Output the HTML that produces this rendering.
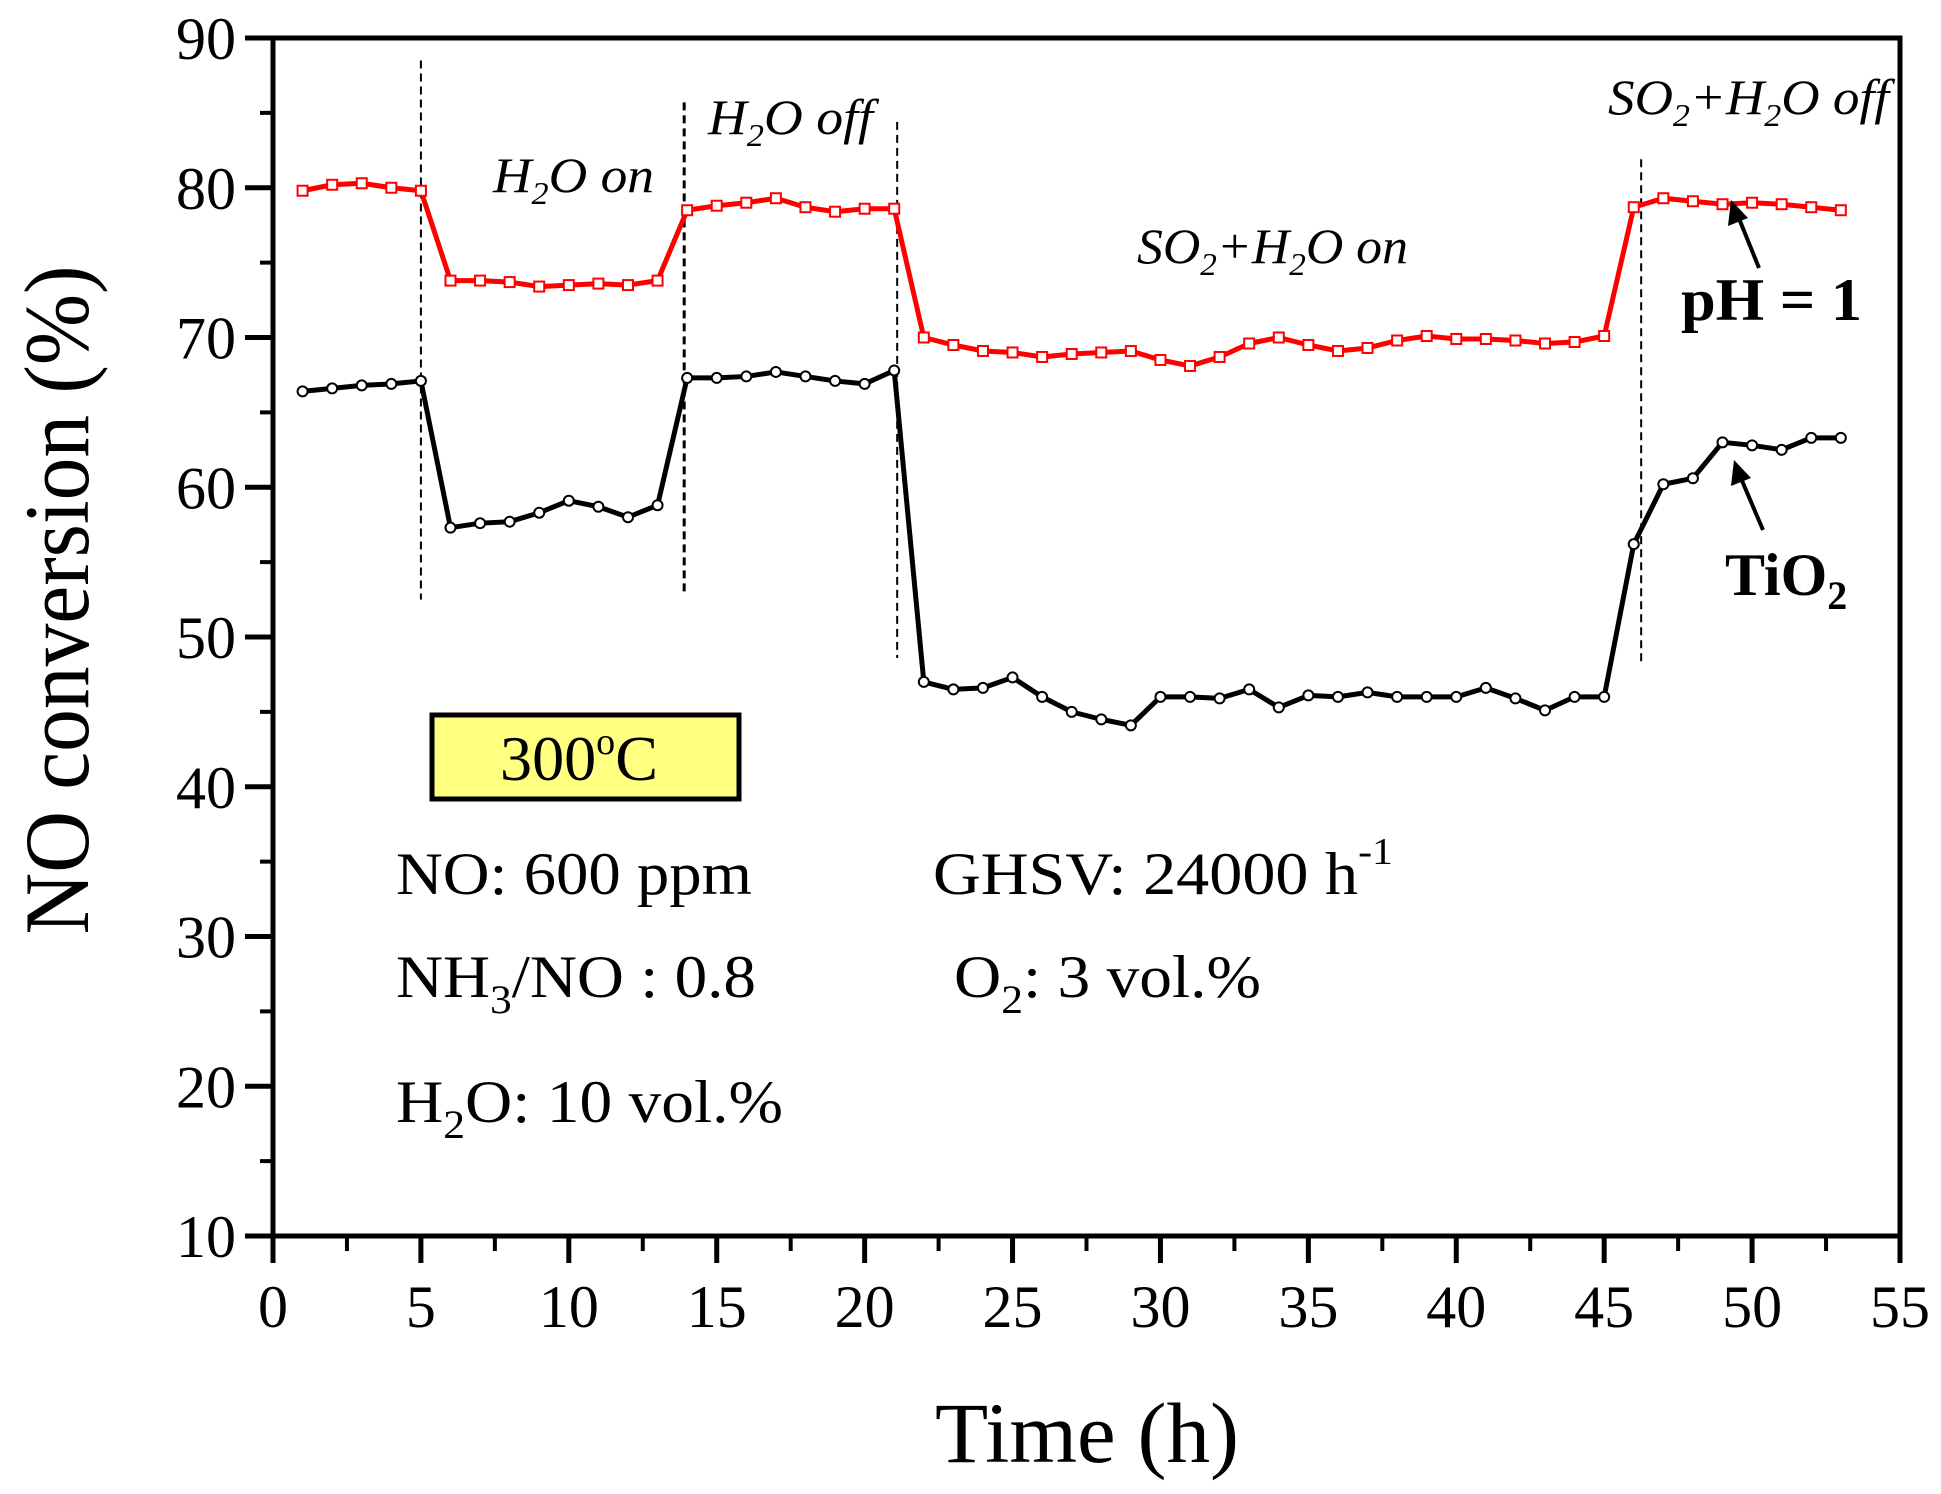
<!DOCTYPE html>
<html><head><meta charset="utf-8"><style>
html,body{margin:0;padding:0;background:#fff}
svg{display:block}
text{font-family:"Liberation Serif",serif}
</style></head><body>
<svg id="chart" width="1941" height="1494" viewBox="0 0 1941 1494" xmlns="http://www.w3.org/2000/svg">
<g id="grid-layer"></g>
<rect x="432" y="715" width="307" height="84" fill="#ffff80" stroke="#000" stroke-width="5"/>
<text x="500" y="780" font-size="64" textLength="158" lengthAdjust="spacingAndGlyphs">300<tspan font-size="38" dy="-26">o</tspan><tspan dy="26">C</tspan></text>
<text x="396" y="894" font-size="60" textLength="356" lengthAdjust="spacingAndGlyphs">NO: 600 ppm</text>
<text x="933" y="894" font-size="60" textLength="460" lengthAdjust="spacingAndGlyphs">GHSV: 24000 h<tspan font-size="38" dy="-30">-1</tspan></text>
<text x="396" y="997" font-size="60" textLength="360" lengthAdjust="spacingAndGlyphs">NH<tspan font-size="40" dy="16">3</tspan><tspan dy="-16">/NO : 0.8</tspan></text>
<text x="954" y="997" font-size="60" textLength="307" lengthAdjust="spacingAndGlyphs">O<tspan font-size="40" dy="16">2</tspan><tspan dy="-16">: 3 vol.%</tspan></text>
<text x="396" y="1122" font-size="60" textLength="387" lengthAdjust="spacingAndGlyphs">H<tspan font-size="40" dy="16">2</tspan><tspan dy="-16">O: 10 vol.%</tspan></text>
<text x="493" y="192" font-size="50" font-style="italic" textLength="161" lengthAdjust="spacingAndGlyphs">H<tspan font-size="32" dy="12">2</tspan><tspan dy="-12">O on</tspan></text>
<text x="708" y="134" font-size="50" font-style="italic" textLength="165" lengthAdjust="spacingAndGlyphs">H<tspan font-size="32" dy="12">2</tspan><tspan dy="-12">O off</tspan></text>
<text x="1137" y="263" font-size="50" font-style="italic" textLength="271" lengthAdjust="spacingAndGlyphs">SO<tspan font-size="32" dy="12">2</tspan><tspan dy="-12">+H</tspan><tspan font-size="32" dy="12">2</tspan><tspan dy="-12">O on</tspan></text>
<text x="1608" y="114" font-size="50" font-style="italic" textLength="281" lengthAdjust="spacingAndGlyphs">SO<tspan font-size="32" dy="12">2</tspan><tspan dy="-12">+H</tspan><tspan font-size="32" dy="12">2</tspan><tspan dy="-12">O off</tspan></text>
<text x="1681" y="320" font-size="60" font-weight="bold" textLength="181" lengthAdjust="spacingAndGlyphs">pH = 1</text>
<text x="1725" y="595" font-size="60" font-weight="bold">TiO<tspan font-size="40" dy="14">2</tspan></text>
<g><line x1="1759" y1="268" x2="1738" y2="216" stroke="#000" stroke-width="4"/><polygon points="1731,200 1728,226 1748,218" fill="#000"/></g>
<g><line x1="1763" y1="530" x2="1740" y2="476" stroke="#000" stroke-width="4"/><polygon points="1734,460 1731,486 1751,478" fill="#000"/></g>
<text x="1087" y="1462" font-size="86" text-anchor="middle" textLength="304" lengthAdjust="spacingAndGlyphs">Time (h)</text>
<text x="0" y="0" font-size="92" text-anchor="middle" textLength="669" lengthAdjust="spacingAndGlyphs" transform="translate(88,600) rotate(-90)">NO conversion (%)</text>
</svg>
<script>
const hours = [1,2,3,4,5,6,7,8,9,10,11,12,13,14,15,16,17,18,19,20,21,22,23,24,25,26,27,28,29,30,31,32,33,34,35,36,37,38,39,40,41,42,43,44,45,46,47,48,49,50,51,52,53];
const ph1Values = [79.8,80.2,80.3,80,79.8,73.8,73.8,73.7,73.4,73.5,73.6,73.5,73.8,78.5,78.8,79,79.3,78.7,78.4,78.6,78.6,70,69.5,69.1,69,68.7,68.9,69,69.1,68.5,68.1,68.7,69.6,70,69.5,69.1,69.3,69.8,70.1,69.9,69.9,69.8,69.6,69.7,70.1,78.7,79.3,79.1,78.9,79,78.9,78.7,78.5];
const tio2Values = [66.4,66.6,66.8,66.9,67.1,57.3,57.6,57.7,58.3,59.1,58.7,58.0,58.8,67.3,67.3,67.4,67.7,67.4,67.1,66.9,67.8,47,46.5,46.6,47.3,46,45,44.5,44.1,46,46,45.9,46.5,45.3,46.1,46,46.3,46,46,46,46.6,45.9,45.1,46,46,56.2,60.2,60.6,63,62.8,62.5,63.3,63.3];
const xTicks = [0,5,10,15,20,25,30,35,40,45,50,55];
const yTicks = [10,20,30,40,50,60,70,80,90];
const eventTimes = [5,13.9,21.1,46.25];
const eventTops = [88.5,85.7,84.4,81.9];
const eventBottoms = [52.5,52.9,48.6,48.1];

const NS='http://www.w3.org/2000/svg';
const layer=document.getElementById('grid-layer');
const X0=273,X1=1900,Y0=1236,Y1=38, xMin=0,xMax=55,yMin=10,yMax=90;
const sx=v=>X0+(v-xMin)/(xMax-xMin)*(X1-X0);
const sy=v=>Y0-(v-yMin)/(yMax-yMin)*(Y0-Y1);
function mk(tag,attrs,parent){const e=document.createElementNS(NS,tag);for(const k in attrs)e.setAttribute(k,attrs[k]);(parent||layer).appendChild(e);return e;}

const frame=mk('rect',{x:X0,y:Y1,width:X1-X0,height:Y0-Y1,fill:'none',stroke:'#000','stroke-width':5});



xTicks.forEach((t,i)=>{
  const tk=mk('line',{x1:sx(t),x2:sx(t),y1:Y0,y2:Y0+27,stroke:'#000','stroke-width':5});
  
  
  const lb=mk('text',{x:sx(t),y:1327,'font-size':60,'text-anchor':'middle'});
  lb.textContent=t;
  
  
  if(i<xTicks.length-1){
    const mt=mk('line',{x1:sx(t+2.5),x2:sx(t+2.5),y1:Y0,y2:Y0+15,stroke:'#000','stroke-width':4});
    
    
  }
});
yTicks.forEach((t,i)=>{
  const tk=mk('line',{x1:X0-28,x2:X0,y1:sy(t),y2:sy(t),stroke:'#000','stroke-width':5});
  
  
  const lb=mk('text',{x:236,y:sy(t)+21,'font-size':60,'text-anchor':'end'});
  lb.textContent=t;
  
  
  if(i<yTicks.length-1){
    const mt=mk('line',{x1:X0-13,x2:X0,y1:sy(t+5),y2:sy(t+5),stroke:'#000','stroke-width':4});
    
    
  }
});
eventTimes.forEach((t,i)=>{
  const l=mk('line',{x1:sx(t),x2:sx(t),y1:sy(eventTops[i]),y2:sy(eventBottoms[i]),stroke:'#000','stroke-width':i===1?3:2,'stroke-dasharray':'8,5'});
  
  
});
function series(vals,color,shape,name){
  const g=mk('g',{});
  
  
  const pts=hours.map((h,i)=>sx(h)+','+sy(vals[i])).join(' ');
  const pl=mk('polyline',{points:pts,fill:'none',stroke:color,'stroke-width':5,'stroke-linejoin':'round'},g);
  
  
  hours.forEach((h,i)=>{
    let m;
    if(shape==='sq') m=mk('rect',{x:sx(h)-5,y:sy(vals[i])-5,width:10,height:10,fill:'#fff',stroke:color,'stroke-width':2},g);
    else m=mk('circle',{cx:sx(h),cy:sy(vals[i]),r:5,fill:'#fff',stroke:color,'stroke-width':2},g);
    
    
  });
}
series(ph1Values,'#ff0000','sq','ph1');
series(tio2Values,'#000000','ci','tio2');
</script>
</body></html>
